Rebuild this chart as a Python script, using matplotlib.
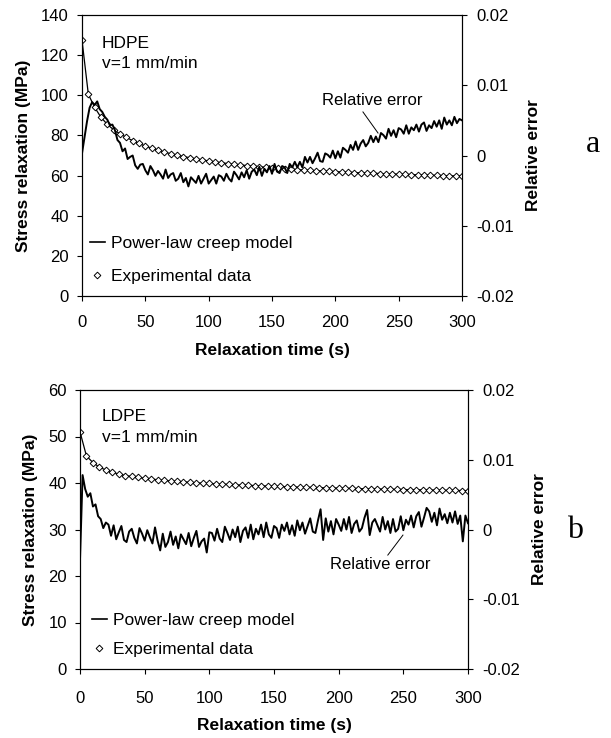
import numpy as np
import matplotlib
matplotlib.use("Agg")
import matplotlib.pyplot as plt
from matplotlib.lines import Line2D

plt.rcParams['font.family'] = ['Liberation Sans', 'DejaVu Sans']

# ---------------- data ----------------
t_exp = np.arange(0, 301, 5)      # experimental sampling (s)
t_err = np.arange(0, 301, 2)      # relative error sampling (s)

hdpe_exp = [127.5, 100.5, 94.0, 89.0, 85.5, 82.8, 80.8, 79.0, 77.4, 76.0,
            74.7, 73.6, 72.6, 71.7, 70.9, 70.2, 69.5, 68.9, 68.3, 67.8,
            67.3, 66.8, 66.4, 66.0, 65.6, 65.3, 65.0, 64.7, 64.4, 64.1,
            63.9, 63.6, 63.4, 63.2, 63.0, 62.8, 62.6, 62.4, 62.3, 62.1,
            62.0, 61.8, 61.7, 61.5, 61.4, 61.3, 61.2, 61.0, 60.9, 60.8,
            60.7, 60.6, 60.5, 60.4, 60.3, 60.2, 60.1, 60.0, 59.9, 59.85, 59.8]
hdpe_model = list(hdpe_exp)

hdpe_err = [0.0003, 0.0026, 0.0049, 0.0068, 0.0076, 0.0072, 0.0077, 0.0066, 0.0062, 0.0055,
            0.0051, 0.0043, 0.0044, 0.0036, 0.0022, 0.0018, 0.0006, 0.0010, -0.0005, -0.0002,
            0.0000, -0.0014, -0.0019, -0.0013, -0.0012, -0.0021, -0.0027, -0.0015, -0.0021, -0.0029,
            -0.0022, -0.0027, -0.0033, -0.0020, -0.0032, -0.0027, -0.0025, -0.0036, -0.0033, -0.0025,
            -0.0038, -0.0032, -0.0044, -0.0031, -0.0035, -0.0039, -0.0029, -0.0040, -0.0033, -0.0026,
            -0.0040, -0.0035, -0.0030, -0.0040, -0.0028, -0.0030, -0.0036, -0.0026, -0.0033, -0.0037,
            -0.0023, -0.0028, -0.0034, -0.0024, -0.0031, -0.0021, -0.0033, -0.0023, -0.0020, -0.0028,
            -0.0016, -0.0029, -0.0019, -0.0024, -0.0015, -0.0026, -0.0012, -0.0023, -0.0025, -0.0015,
            -0.0017, -0.0025, -0.0012, -0.0017, -0.0009, -0.0017, -0.0009, -0.0017, -0.0002, -0.0010,
            -0.0002, -0.0011, -0.0004, 0.0004, -0.0008, -0.0009, 0.0003, 0.0001, -0.0003, 0.0007,
            -0.0004, 0.0006, -0.0003, 0.0011, 0.0008, 0.0004, 0.0015, 0.0008, 0.0020, 0.0008,
            0.0017, 0.0022, 0.0013, 0.0018, 0.0028, 0.0019, 0.0027, 0.0019, 0.0032, 0.0029,
            0.0024, 0.0038, 0.0028, 0.0036, 0.0026, 0.0039, 0.0037, 0.0031, 0.0043, 0.0031,
            0.0040, 0.0036, 0.0044, 0.0034, 0.0044, 0.0047, 0.0035, 0.0043, 0.0039, 0.0049,
            0.0041, 0.0050, 0.0038, 0.0054, 0.0044, 0.0050, 0.0043, 0.0055, 0.0046, 0.0052, 0.0050]

ldpe_exp = [51.0, 45.8, 44.4, 43.4, 42.8, 42.3, 41.9, 41.6, 41.4, 41.2,
            41.0, 40.85, 40.7, 40.55, 40.45, 40.35, 40.25, 40.15, 40.05, 39.95,
            39.9, 39.8, 39.75, 39.7, 39.6, 39.55, 39.5, 39.45, 39.4, 39.35,
            39.3, 39.25, 39.2, 39.15, 39.1, 39.08, 39.05, 39.0, 38.97, 38.94,
            38.9, 38.87, 38.84, 38.8, 38.77, 38.74, 38.71, 38.68, 38.65, 38.62,
            38.6, 38.57, 38.55, 38.52, 38.5, 38.47, 38.45, 38.42, 38.4, 38.38, 38.35]
ldpe_model = list(ldpe_exp)

ldpe_err = [-0.0043, 0.0078, 0.0058, 0.0047, 0.0052, 0.0033, 0.0036, 0.0019, 0.0015, 0.0002,
            0.0010, 0.0007, -0.0009, 0.0006, -0.0014, -0.0004, 0.0005, -0.0015, -0.0018, -0.0003,
            0.0001, -0.0012, -0.0020, 0.0002, -0.0006, -0.0016, -0.0001, -0.0011, -0.0020, 0.0003,
            -0.0016, -0.0030, -0.0006, -0.0025, -0.0018, -0.0003, -0.0022, -0.0010, -0.0027, -0.0007,
            -0.0014, -0.0021, -0.0005, -0.0024, -0.0012, -0.0002, -0.0025, -0.0017, -0.0013, -0.0033,
            -0.0004, -0.0005, -0.0016, 0.0001, -0.0013, -0.0018, 0.0004, -0.0005, -0.0015, 0.0000,
            -0.0011, 0.0004, -0.0018, -0.0002, 0.0003, -0.0012, 0.0007, -0.0014, 0.0001, -0.0007,
            0.0007, -0.0011, 0.0010, -0.0007, -0.0012, 0.0005, 0.0002, -0.0012, 0.0007, -0.0002,
            0.0010, -0.0007, 0.0006, -0.0009, 0.0013, -0.0001, 0.0010, -0.0006, 0.0005, 0.0016,
            -0.0003, -0.0005, 0.0013, 0.0029, -0.0015, 0.0016, -0.0003, 0.0012, -0.0007, 0.0015,
            0.0007, -0.0002, 0.0015, 0.0000, 0.0018, -0.0005, 0.0008, 0.0013, -0.0003, 0.0002,
            0.0017, 0.0028, -0.0008, 0.0010, 0.0015, 0.0006, -0.0003, 0.0018, 0.0000, 0.0012,
            -0.0005, 0.0015, -0.0003, 0.0001, 0.0019, -0.0001, 0.0014, 0.0007, 0.0020, 0.0003,
            0.0019, 0.0025, 0.0004, 0.0017, 0.0031, 0.0026, 0.0011, 0.0024, 0.0006, 0.0030,
            0.0014, 0.0022, 0.0009, 0.0024, 0.0010, 0.0026, 0.0008, 0.0020, -0.0017, 0.0020, 0.0009]

x_ticks = [0, 50, 100, 150, 200, 250, 300]
hdpe_yticks = [0, 20, 40, 60, 80, 100, 120, 140]
ldpe_yticks = [0, 10, 20, 30, 40, 50, 60]
err_ticks = [-0.02, -0.01, 0.0, 0.01, 0.02]
err_ticklabels = ['-0.02', '-0.01', '0', '0.01', '0.02']

FS = 12
W, H = 611, 738
fig = plt.figure(figsize=(W / 100, H / 100), dpi=100)


def px_rect(l, t, r, b):
    return [l / W, 1 - b / H, (r - l) / W, (b - t) / H]


def panel(rect, exp, model, err, yticks, ymax, name, name_xy, ann_text, ann_line,
          leg_anchor, leg_spacing, ylab_x, rylab_x, xlab_y, letter, letter_xy, xpad):
    ax = fig.add_axes(rect)
    ax.plot(t_exp, model, color='black', lw=0.9, zorder=2)
    ax.plot(t_exp, exp, linestyle='none', marker='D', markersize=3.4,
            markerfacecolor='white', markeredgecolor='black', markeredgewidth=0.7, zorder=3)
    ax.set_xlim(0, 300)
    ax.set_ylim(0, ymax)
    ax.set_xticks(x_ticks)
    ax.set_yticks(yticks)
    ax.tick_params(axis='both', direction='out', length=3.5, width=0.8, labelsize=FS)
    ax.tick_params(axis='y', pad=6)
    ax.tick_params(axis='x', pad=xpad)
    for s in ax.spines.values():
        s.set_linewidth(0.8)
    ax.set_ylabel('Stress relaxation (MPa)', fontsize=12.5, fontweight='bold')
    ax.yaxis.set_label_coords(ylab_x, 0.5)
    ax.set_xlabel('Relaxation time (s)', fontsize=12.5, fontweight='bold')
    ax.xaxis.set_label_coords(0.5, xlab_y)

    ax.text(name_xy[0], name_xy[1], name, fontsize=12.5, va='center', ha='left')
    ax.text(name_xy[0], name_xy[2], 'v=1 mm/min', fontsize=12.5, va='center', ha='left')

    ax2 = ax.twinx()
    ax2.plot(t_err, err, color='black', lw=1.4, zorder=4)
    ax2.set_ylim(-0.02, 0.02)
    ax2.set_yticks(err_ticks)
    ax2.set_yticklabels(err_ticklabels)
    ax2.tick_params(axis='y', direction='out', length=3.5, width=0.8, labelsize=FS, pad=7)
    for s in ax2.spines.values():
        s.set_linewidth(0.8)
    ax2.set_ylabel('Relative error', fontsize=12.5, fontweight='bold', rotation=90)
    ax2.yaxis.set_label_coords(rylab_x, 0.5)

    ax.text(ann_text[0], ann_text[1], 'Relative error', fontsize=12, ha='center', va='center')
    ax.plot([ann_line[0], ann_line[2]], [ann_line[1], ann_line[3]], color='black', lw=0.7)

    handles = [Line2D([], [], color='black', lw=1.2),
               Line2D([], [], linestyle='none', marker='D', markersize=3.4,
                      markerfacecolor='white', markeredgecolor='black', markeredgewidth=0.7)]
    ax.legend(handles, ['Power-law creep model', 'Experimental data'], loc='lower left',
              bbox_to_anchor=leg_anchor, frameon=False, fontsize=12.5, handlelength=0.9,
              handletextpad=0.35, labelspacing=leg_spacing, borderpad=0, borderaxespad=0)

    fig.text(letter_xy[0] / W, 1 - letter_xy[1] / H, letter, fontsize=23,
             family=['Liberation Serif', 'DejaVu Serif'], ha='center', va='center')
    return ax, ax2


panel(px_rect(82, 15, 462, 296), hdpe_exp, hdpe_model, hdpe_err, hdpe_yticks, 140,
      'HDPE', (15.5, 126, 116), (229, 97.6), (221.8, 91.7, 233.7, 81.2),
      (0.02, 0.042), 1.03, -0.134, 1.169, -0.167, 'a', (593, 145), 10.5)

panel(px_rect(80, 390, 468, 669), ldpe_exp, ldpe_model, ldpe_err, ldpe_yticks, 60,
      'LDPE', (17, 54.2, 49.7), (232, 22.4), (249.7, 28.8, 238, 24.5),
      (0.03, 0.042), 0.8, -0.109, 1.165, -0.176, 'b', (575, 530), 12)

fig.savefig('out.png', dpi=100)
